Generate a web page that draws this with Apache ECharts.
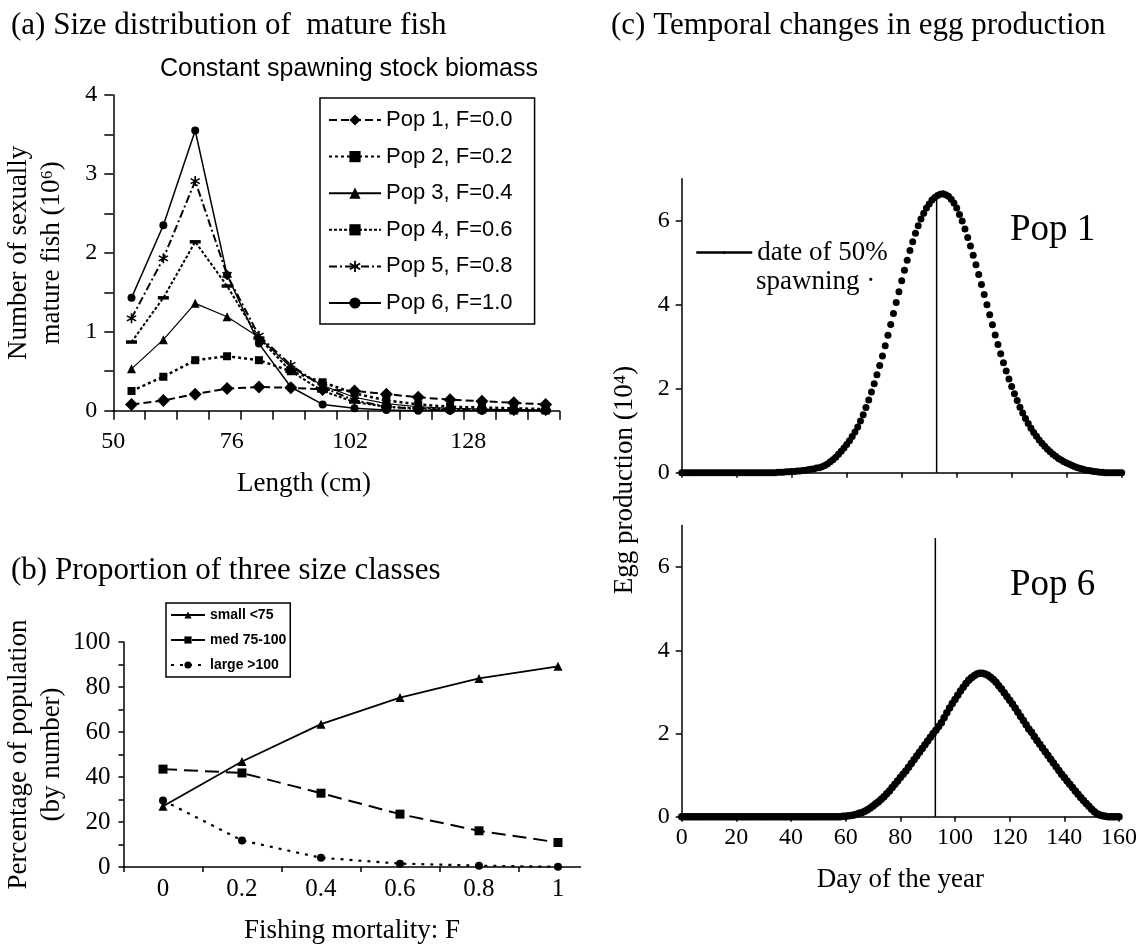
<!DOCTYPE html>
<html><head><meta charset="utf-8">
<script src="https://cdn.jsdelivr.net/npm/echarts@6/dist/echarts.min.js"></script>
<style>html,body{margin:0;padding:0;background:#fff}#c{width:1140px;height:945px}</style>
</head><body><div id="c"></div>
<script>
// ---------- Panel (a): size distribution of mature fish ----------
const lengths = [54, 61, 68, 75, 82, 89, 96, 103, 110, 117, 124, 131, 138, 145];
const pop1 = [0.08, 0.13, 0.21, 0.28, 0.30, 0.29, 0.27, 0.25, 0.21, 0.17, 0.14, 0.12, 0.10, 0.08];
const pop2 = [0.25, 0.43, 0.64, 0.69, 0.64, 0.50, 0.36, 0.22, 0.13, 0.08, 0.05, 0.04, 0.03, 0.02];
const pop3 = [0.53, 0.90, 1.36, 1.19, 0.93, 0.55, 0.32, 0.17, 0.09, 0.05, 0.03, 0.02, 0.01, 0.01];
const pop4 = [0.87, 1.43, 2.14, 1.58, 0.92, 0.50, 0.25, 0.11, 0.05, 0.03, 0.02, 0.01, 0.01, 0.00];
const pop5 = [1.17, 1.93, 2.91, 1.72, 0.95, 0.58, 0.30, 0.13, 0.05, 0.02, 0.01, 0.01, 0.00, 0.00];
const pop6 = [1.43, 2.35, 3.55, 1.72, 0.85, 0.30, 0.08, 0.03, 0.01, 0.00, 0.00, 0.00, 0.00, 0.00];
const popNames = ['Pop 1, F=0.0', 'Pop 2, F=0.2', 'Pop 3, F=0.4', 'Pop 4, F=0.6', 'Pop 5, F=0.8', 'Pop 6, F=1.0'];
const lengthTicks = [50, 57, 64, 71, 78, 85, 92, 99, 106, 113, 120, 127, 134, 141, 148];
const lengthLabels = [50, 76, 102, 128];
const fishTicks = [0, 0.5, 1, 1.5, 2, 2.5, 3, 3.5, 4];
const fishLabels = [0, 1, 2, 3, 4];

// ---------- Panel (b): proportion of three size classes ----------
const fishingF = [0, 0.2, 0.4, 0.6, 0.8, 1];
const fLabels = [0, 0.2, 0.4, 0.6, 0.8, 1];
const fTicks = [-0.1, 0.1, 0.3, 0.5, 0.7, 0.9];
const smallPct = [27.0, 46.9, 63.5, 75.3, 83.8, 89.2];
const medPct = [43.5, 41.8, 32.8, 23.5, 16.1, 10.9];
const largePct = [29.6, 11.8, 4.1, 1.5, 0.6, 0.1];
const sizeNames = ['small <75', 'med 75-100', 'large >100'];
const pctTicks = [0, 10, 20, 30, 40, 50, 60, 70, 80, 90, 100];
const pctLabels = [0, 20, 40, 60, 80, 100];

// ---------- Panel (c): temporal changes in egg production ----------
const days = Array.from({length: 161}, (_, i) => i);
const eggPop1 = [
  0,0,0,0,0,0,0,0,0,0, 0,0,0,0,0,0,0,0,0,0, 0,0,0,0,0,0,0,0,0,0, 0,0,0,0,0,0.01,0.01,0.01,0.02,0.02,
  0.03,0.03,0.04,0.04,0.05,0.06,0.07,0.08,0.09,0.11, 0.12,0.14,0.17,0.21,0.26,0.31,0.37,0.44,0.51,0.59,
  0.67,0.76,0.86,0.97,1.09,1.23,1.38,1.55,1.73,1.92, 2.12,2.33,2.55,2.78,3.02,3.27,3.53,3.79,4.05,4.31,
  4.57,4.82,5.06,5.29,5.50,5.70,5.88,6.04,6.18,6.30, 6.40,6.49,6.55,6.60,6.63,6.64,6.62,6.58,6.51,6.42,
  6.30,6.15,5.99,5.80,5.60,5.40,5.18,4.95,4.72,4.48, 4.24,4.00,3.76,3.52,3.28,3.05,2.83,2.62,2.42,2.23,
  2.05,1.88,1.72,1.56,1.42,1.29,1.17,1.06,0.96,0.87, 0.78,0.70,0.63,0.56,0.50,0.44,0.39,0.34,0.30,0.26,
  0.23,0.20,0.17,0.14,0.12,0.10,0.08,0.06,0.05,0.04, 0.03,0.02,0.01,0.01,0,0,0,0,0,0, 0
];
const eggPop6 = [
  0,0,0,0,0,0,0,0,0,0, 0,0,0,0,0,0,0,0,0,0, 0,0,0,0,0,0,0,0,0,0, 0,0,0,0,0,0,0,0,0,0,
  0,0,0,0,0,0,0,0,0,0, 0,0,0,0,0,0,0,0,0,0.01, 0.01,0.02,0.03,0.04,0.06,0.08,0.10,0.13,0.17,0.21,
  0.26,0.31,0.36,0.42,0.48,0.55,0.62,0.70,0.78,0.86, 0.94,1.02,1.10,1.19,1.28,1.37,1.46,1.55,1.64,1.73,
  1.82,1.91,2.00,2.08,2.17,2.26,2.38,2.50,2.61,2.72, 2.82,2.92,3.02,3.11,3.20,3.28,3.34,3.39,3.43,3.45,
  3.45,3.43,3.40,3.35,3.30,3.23,3.15,3.07,2.98,2.89, 2.80,2.71,2.61,2.51,2.41,2.31,2.21,2.11,2.03,1.93,
  1.83,1.74,1.65,1.56,1.47,1.38,1.29,1.20,1.11,1.02, 0.94,0.86,0.78,0.70,0.62,0.54,0.46,0.39,0.32,0.25,
  0.18,0.12,0.07,0.04,0.02,0.01,0,0,0,0, 0
];
const spawn50Pop1 = 92.7;
const spawn50Pop6 = 92.8;
const spawnLineTop1 = 6.6;
const spawnLineTop6 = 6.7;
const eggTicks = [0, 2, 4, 6];
const dayTicks = [0, 20, 40, 60, 80, 100, 120, 140, 160];

const SERIF = 'Liberation Serif';
const SANS = 'Liberation Sans';
const zip = (xs, ys) => xs.map((x, i) => [x, ys[i]]);

const asterisk = 'path://M-0.15,-1 L0.15,-1 L0.15,1 L-0.15,1 Z M-0.941,-0.37 L-0.791,-0.63 L0.941,0.37 L0.791,0.63 Z M0.791,-0.63 L0.941,-0.37 L-0.791,0.63 L-0.941,0.37 Z';

const axisLine = {show: true, onZero: false, lineStyle: {color: '#000', width: 1.5}};
const tickStyle = {color: '#000', width: 1.5};

const chart = echarts.init(document.getElementById('c'), null, {renderer: 'canvas'});

const popStyles = [
  {symbol: 'diamond', size: 13, type: [8, 4], width: 2},
  {symbol: 'rect', size: 8, type: [3, 3], width: 2.5},
  {symbol: 'triangle', size: 9, type: 'solid', width: 1.2},
  {symbol: 'rect', size: [11, 3.5], type: [3, 2], width: 2},
  {symbol: asterisk, size: 10, type: [8, 3, 2, 3], width: 2},
  {symbol: 'circle', size: 8, type: 'solid', width: 1.5}
];
const popData = [pop1, pop2, pop3, pop4, pop5, pop6];

const seriesA = popData.map((vals, i) => ({
  name: popNames[i], type: 'line', xAxisIndex: 0, yAxisIndex: 0,
  data: zip(lengths, vals), symbol: popStyles[i].symbol, symbolSize: popStyles[i].size,
  showAllSymbol: true, itemStyle: {color: '#000'},
  lineStyle: {color: '#000', width: popStyles[i].width, type: popStyles[i].type},
  animation: false, z: 10 - i
}));

const sizeStyles = [
  {symbol: 'triangle', size: 9, type: 'solid', width: 1.8},
  {symbol: 'rect', size: 9, type: [14, 7], width: 2},
  {symbol: 'circle', size: 8, type: [3, 6], width: 2.2}
];
const sizeData = [smallPct, medPct, largePct];
const seriesB = sizeData.map((vals, i) => ({
  name: sizeNames[i], type: 'line', xAxisIndex: 1, yAxisIndex: 1,
  data: zip(fishingF, vals), symbol: sizeStyles[i].symbol, symbolSize: sizeStyles[i].size,
  itemStyle: {color: '#000'},
  lineStyle: {color: '#000', width: sizeStyles[i].width, type: sizeStyles[i].type},
  animation: false
}));

const titleFont = {fontFamily: SERIF, fontSize: 31, fontWeight: 'normal', color: '#000'};

const option = {
  backgroundColor: '#fff',
  animation: false,
  textStyle: {fontFamily: SERIF, color: '#000'},
  title: [
    {text: '(a) Size distribution of  mature fish', left: 6, top: 5, textStyle: titleFont},
    {text: 'Constant spawning stock biomass', left: 155, top: 52,
     textStyle: {fontFamily: SANS, fontSize: 25, fontWeight: 'normal', color: '#000'}},
    {text: '(b) Proportion of three size classes', left: 6, top: 550, textStyle: titleFont},
    {text: '(c) Temporal changes in egg production', left: 606, top: 5, textStyle: titleFont},
    {text: 'Pop 1', left: 1005, top: 207,
     textStyle: {fontFamily: SERIF, fontSize: 37, fontWeight: 'normal', color: '#000'}},
    {text: 'Pop 6', left: 1005, top: 562,
     textStyle: {fontFamily: SERIF, fontSize: 37, fontWeight: 'normal', color: '#000'}}
  ],
  legend: [
    {data: popNames, orient: 'vertical', left: 320, top: 98,
     itemWidth: 52, itemHeight: 14, itemGap: 14.6,
     padding: [11, 22, 10, 8], borderColor: '#000', borderWidth: 1.5,
     textStyle: {fontFamily: SANS, fontSize: 22, color: '#000'}},
    {data: sizeNames, orient: 'vertical', left: 166, top: 603,
     itemWidth: 34, itemHeight: 9, itemGap: 11,
     padding: [5, 4, 5, 4], borderColor: '#000', borderWidth: 1.5,
     textStyle: {fontFamily: SANS, fontSize: 14, fontWeight: 'bold', color: '#000'}},
    {data: ['date of 50%'], left: 690, top: 234, itemWidth: 56, itemHeight: 4,
     lineStyle: {width: 2.5},
     textStyle: {fontFamily: SERIF, fontSize: 27, color: '#000'}}
  ],
  graphic: [
    {type: 'text', left: 756, top: 268, silent: true,
     style: {text: 'spawning ·', font: '27px "Liberation Serif"', fill: '#000'}},
    {type: 'text', x: 625, y: 480, rotation: Math.PI / 2, silent: true,
     style: {text: 'Egg production (10⁴)', font: '27px "Liberation Serif"', fill: '#000',
             textAlign: 'center', textVerticalAlign: 'middle'}},
    {type: 'text', x: 304, y: 484, silent: true,
     style: {text: 'Length (cm)', font: '27px "Liberation Serif"', fill: '#000',
             textAlign: 'center', textVerticalAlign: 'middle'}}
  ],
  grid: [
    {left: 113.3, top: 95, width: 446, height: 315.7},
    {left: 123.5, top: 642, width: 457, height: 229},
    {left: 681.7, top: 178.7, width: 440, height: 294},
    {left: 681.7, top: 525.5, width: 440, height: 291.2}
  ],
  xAxis: [
    {gridIndex: 0, type: 'value', min: 50, max: 148, axisLine,
     axisTick: {show: true, inside: false, length: 9, lineStyle: tickStyle, customValues: lengthTicks},
     axisLabel: {customValues: lengthLabels, fontFamily: SERIF, fontSize: 24, color: '#000', margin: 19},
     splitLine: {show: false}},
    {gridIndex: 1, type: 'value', min: -0.1, max: 1.057, axisLine,
     axisTick: {show: true, length: 5, lineStyle: tickStyle, customValues: fTicks},
     axisLabel: {customValues: fLabels, fontFamily: SERIF, fontSize: 25, color: '#000', margin: 10},
     name: 'Fishing mortality: F', nameLocation: 'middle', nameGap: 50,
     nameTextStyle: {fontFamily: SERIF, fontSize: 27, color: '#000'},
     splitLine: {show: false}},
    {gridIndex: 2, type: 'value', min: 0, max: 160, axisLine,
     axisTick: {show: true, length: 5, lineStyle: tickStyle, customValues: dayTicks},
     axisLabel: {show: false}, splitLine: {show: false}},
    {gridIndex: 3, type: 'value', min: 0, max: 160, axisLine,
     axisTick: {show: true, length: 5, lineStyle: tickStyle, customValues: dayTicks},
     axisLabel: {customValues: dayTicks, fontFamily: SERIF, fontSize: 24, color: '#000', margin: 9},
     name: 'Day of the year', nameLocation: 'middle', nameGap: 50,
     nameTextStyle: {fontFamily: SERIF, fontSize: 27, color: '#000'},
     splitLine: {show: false}}
  ],
  yAxis: [
    {gridIndex: 0, type: 'value', min: 0, max: 4, axisLine,
     axisTick: {show: true, length: 9, lineStyle: tickStyle, customValues: fishTicks},
     axisLabel: {customValues: fishLabels, fontFamily: SERIF, fontSize: 24, color: '#000', margin: 16},
     name: 'Number of sexually\nmature fish (10⁶)', nameLocation: 'middle', nameGap: 45, nameRotate: 90,
     nameTextStyle: {fontFamily: SERIF, fontSize: 27, color: '#000', lineHeight: 33},
     splitLine: {show: false}},
    {gridIndex: 1, type: 'value', min: 0, max: 100, axisLine,
     axisTick: {show: true, length: 5, lineStyle: tickStyle, customValues: pctTicks},
     axisLabel: {customValues: pctLabels, fontFamily: SERIF, fontSize: 25, color: '#000', margin: 13},
     name: 'Percentage of population\n(by number)', nameLocation: 'middle', nameGap: 55, nameRotate: 90,
     nameTextStyle: {fontFamily: SERIF, fontSize: 27, color: '#000', lineHeight: 33},
     splitLine: {show: false}},
    {gridIndex: 2, type: 'value', min: 0, max: 7, axisLine,
     axisTick: {show: true, length: 6, lineStyle: tickStyle, customValues: eggTicks},
     axisLabel: {customValues: eggTicks, fontFamily: SERIF, fontSize: 24, color: '#000', margin: 12},
     splitLine: {show: false}},
    {gridIndex: 3, type: 'value', min: 0, max: 7, axisLine,
     axisTick: {show: true, length: 6, lineStyle: tickStyle, customValues: eggTicks},
     axisLabel: {customValues: eggTicks, fontFamily: SERIF, fontSize: 24, color: '#000', margin: 12},
     splitLine: {show: false}}
  ],
  series: [
    ...seriesA,
    ...seriesB,
    {name: 'date of 50%', type: 'line', xAxisIndex: 2, yAxisIndex: 2,
     data: [[spawn50Pop1, 0], [spawn50Pop1, spawnLineTop1]], symbol: 'none',
     lineStyle: {color: '#000', width: 1.5}, itemStyle: {color: '#000'}, z: 3},
    {name: 'Pop 1 eggs', type: 'scatter', xAxisIndex: 2, yAxisIndex: 2,
     data: zip(days, eggPop1), symbol: 'circle', symbolSize: 7,
     itemStyle: {color: '#000', opacity: 1}, z: 4},
    {name: 'spawn6', type: 'line', xAxisIndex: 3, yAxisIndex: 3,
     data: [[spawn50Pop6, 0], [spawn50Pop6, spawnLineTop6]], symbol: 'none',
     lineStyle: {color: '#000', width: 1.5}, z: 3},
    {name: 'Pop 6 eggs', type: 'scatter', xAxisIndex: 3, yAxisIndex: 3,
     data: zip(days, eggPop6), symbol: 'circle', symbolSize: 7.5,
     itemStyle: {color: '#000', opacity: 1}, z: 4}
  ]
};
chart.setOption(option);
</script>
</body></html>
